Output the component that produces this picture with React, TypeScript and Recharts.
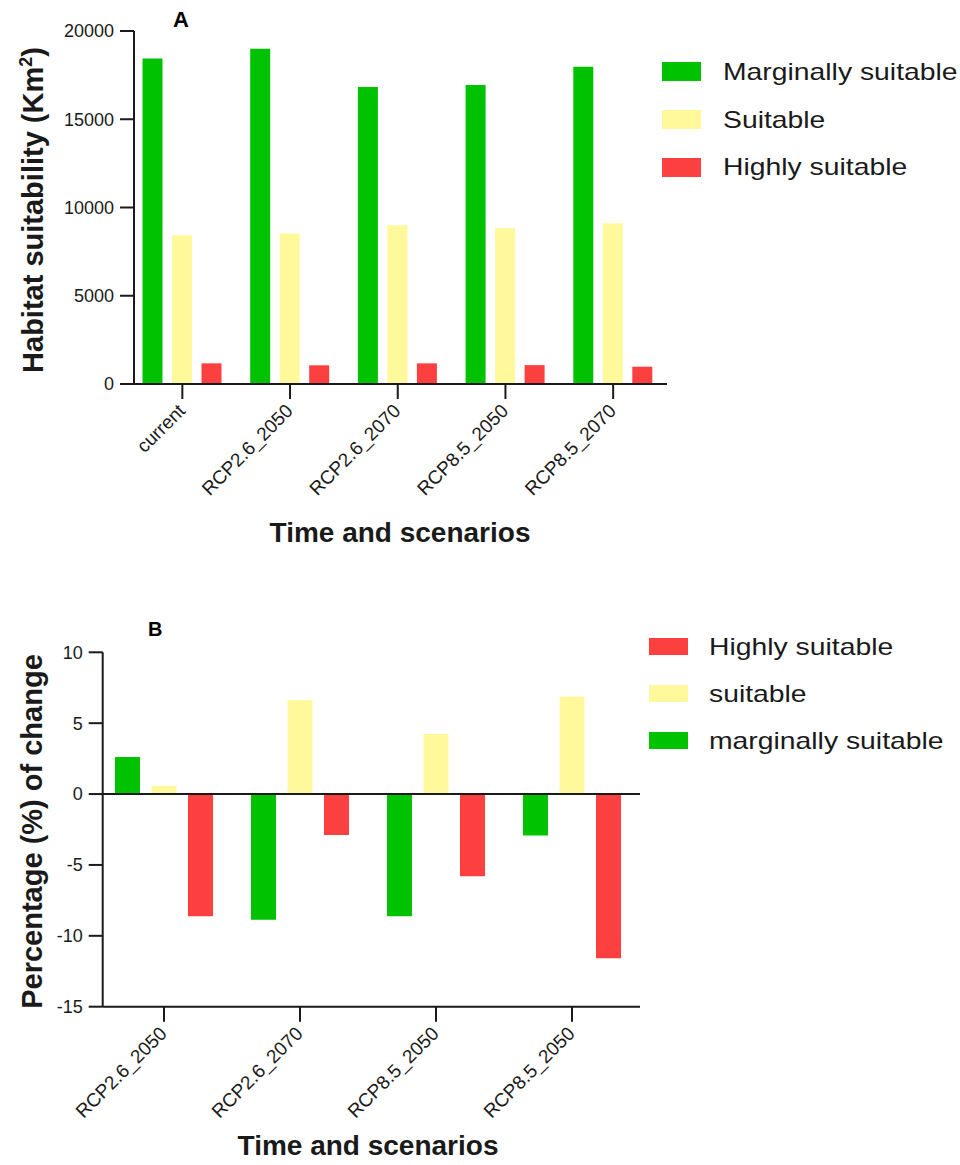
import React from 'react';
import { Bar, BarChart, XAxis, YAxis, Legend, ReferenceLine } from 'recharts';

const FONT = "'Liberation Sans', Arial, sans-serif";
const INK = '#1a1a1a';

const GREEN = '#00C200';
const YELLOW = '#FFF99C';
const RED = '#FC3F3F';

// panel A: habitat area (km2)
const categoriesA = ['current', 'RCP2.6_2050', 'RCP2.6_2070', 'RCP8.5_2050', 'RCP8.5_2070'];
const marginalA = [18440, 19000, 16830, 16940, 17980];
const suitableA = [8430, 8530, 9000, 8830, 9110];
const highlyA = [1170, 1060, 1170, 1070, 980];
const ticksA = [0, 5000, 10000, 15000, 20000];

// panel B: % change vs current
const categoriesB = ['RCP2.6_2050', 'RCP2.6_2070', 'RCP8.5_2050', 'RCP8.5_2050'];
const marginalB = [2.61, -8.87, -8.62, -2.92];
const suitableB = [0.58, 6.62, 4.23, 6.88];
const highlyB = [-8.62, -2.89, -5.8, -11.58];
const ticksB = [-15, -10, -5, 0, 5, 10];

const legendA = [
  { label: 'Marginally suitable', color: GREEN },
  { label: 'Suitable', color: YELLOW },
  { label: 'Highly suitable', color: RED },
];
const legendB = [
  { label: 'Highly suitable', color: RED },
  { label: 'suitable', color: YELLOW },
  { label: 'marginally suitable', color: GREEN },
];

const dataA = categoriesA.map((name, i) => ({
  name,
  marginal: marginalA[i],
  suitable: suitableA[i],
  highly: highlyA[i],
}));
const dataB = categoriesB.map((name, i) => ({
  name,
  marginal: marginalB[i],
  suitable: suitableB[i],
  highly: highlyB[i],
}));

const axisStyle = { stroke: INK, strokeWidth: 2 };

function RotTick(props: any) {
  const { x, y, payload } = props;
  return (
    <g transform={`translate(${x + 4},${y + 13})`}>
      <text textAnchor="end" transform="rotate(-45)" fontSize={19} fill={INK} fontFamily={FONT}>
        {payload.value}
      </text>
    </g>
  );
}

function makeLegend(items: { label: string; color: string }[], rowH: number, swH: number, gap: number) {
  return () => (
    <div style={{ textAlign: 'left' }}>
      {items.map((it) => (
        <div key={it.label} style={{ display: 'flex', alignItems: 'center', height: rowH }}>
          <div style={{ width: 39, height: swH, background: it.color, flex: 'none' }} />
          <span
            style={{
              marginLeft: gap,
              fontSize: 24,
              lineHeight: 1,
              fontFamily: FONT,
              color: INK,
              whiteSpace: 'nowrap',
              display: 'inline-block',
              transform: 'scaleX(1.18)',
              transformOrigin: 'left center',
            }}
          >
            {it.label}
          </span>
        </div>
      ))}
    </div>
  );
}

function ChartA() {
  return (
    <BarChart
      width={960}
      height={580}
      data={dataA}
      margin={{ top: 31, right: 293, bottom: 136, left: 74 }}
      barSize={20}
      barGap={9.5}
    >
      <XAxis
        dataKey="name"
        height={60}
        interval={0}
        tickSize={15}
        tickMargin={0}
        tick={<RotTick />}
        axisLine={axisStyle}
        tickLine={axisStyle}
        padding={{ left: -5.5, right: 0 }}
        label={() => (
          <g>
            <text x={400} y={542} textAnchor="middle" fontSize={28} fontWeight="bold" fontFamily={FONT} fill={INK}>
              Time and scenarios
            </text>
            <text x={173} y={27} fontSize={22} fontWeight="bold" fontFamily={FONT} fill="#000">
              A
            </text>
          </g>
        )}
      />
      <YAxis
        width={60}
        domain={[0, 20000]}
        ticks={ticksA}
        interval={0}
        tickSize={14}
        tickMargin={6}
        axisLine={axisStyle}
        tickLine={axisStyle}
        tick={{ fontSize: 18, fill: INK, fontFamily: FONT }}
        label={() => (
          <text
            x={43}
            y={210}
            transform="rotate(-90,43,210)"
            textAnchor="middle"
            fontSize={29}
            fontWeight="bold"
            fontFamily={FONT}
            fill={INK}
          >
            Habitat suitability (Km<tspan dy={-11} fontSize={18}>2</tspan>
            <tspan dy={11}>)</tspan>
          </text>
        )}
      />
      <Bar dataKey="marginal" fill={GREEN} isAnimationActive={false} />
      <Bar dataKey="suitable" fill={YELLOW} isAnimationActive={false} />
      <Bar dataKey="highly" fill={RED} isAnimationActive={false} />
      <Legend
        layout="vertical"
        align="center"
        verticalAlign="middle"
        content={makeLegend(legendA, 47.8, 19, 21.7)}
        wrapperStyle={{ left: 662, top: 48, width: 298 }}
      />
    </BarChart>
  );
}

function ChartB() {
  return (
    <BarChart
      width={960}
      height={580}
      data={dataB}
      margin={{ top: 67.3, right: 320, bottom: 98.3, left: 42.7 }}
      barSize={25}
      barGap={11.5}
    >
      <XAxis
        dataKey="name"
        height={60}
        interval={0}
        tickSize={15}
        tickMargin={0}
        tick={<RotTick />}
        axisLine={axisStyle}
        tickLine={axisStyle}
        padding={{ left: -6.7, right: 0 }}
        label={() => (
          <g>
            <text x={368} y={570} textAnchor="middle" fontSize={28} fontWeight="bold" fontFamily={FONT} fill={INK}>
              Time and scenarios
            </text>
            <text x={148} y={50.7} fontSize={20} fontWeight="bold" fontFamily={FONT} fill="#000">
              B
            </text>
          </g>
        )}
      />
      <YAxis
        width={60}
        domain={[-15, 10]}
        ticks={ticksB}
        interval={0}
        tickSize={14}
        tickMargin={6}
        axisLine={axisStyle}
        tickLine={axisStyle}
        tick={{ fontSize: 18, fill: INK, fontFamily: FONT }}
        label={() => (
          <text
            x={42}
            y={246.5}
            transform="rotate(-90,42,246.5)"
            textAnchor="middle"
            fontSize={29}
            fontWeight="bold"
            fontFamily={FONT}
            fill={INK}
          >
            Percentage (%) of change
          </text>
        )}
      />
      <Bar dataKey="marginal" fill={GREEN} isAnimationActive={false} />
      <Bar dataKey="suitable" fill={YELLOW} isAnimationActive={false} />
      <Bar dataKey="highly" fill={RED} isAnimationActive={false} />
      <ReferenceLine y={0} stroke={INK} strokeWidth={2} />
      <Legend
        layout="vertical"
        align="center"
        verticalAlign="middle"
        content={makeLegend(legendB, 47.2, 17, 20.7)}
        wrapperStyle={{ left: 649, top: 38, width: 311 }}
      />
    </BarChart>
  );
}

export default function App() {
  return (
    <div style={{ position: 'absolute', left: 0, top: 0, width: 960, height: 1165, background: '#fff' }}>
      <div style={{ position: 'absolute', left: 0, top: 0 }}>
        <ChartA />
      </div>
      <div style={{ position: 'absolute', left: 0, top: 585 }}>
        <ChartB />
      </div>
    </div>
  );
}
